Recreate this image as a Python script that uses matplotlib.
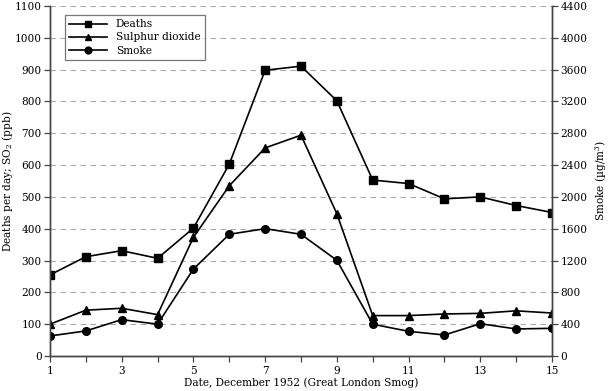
import matplotlib
matplotlib.use("Agg")
import matplotlib.pyplot as plt
from matplotlib.ticker import MultipleLocator

days = [1, 2, 3, 4, 5, 6, 7, 8, 9, 10, 11, 12, 13, 14, 15]
deaths = [255, 312, 331, 307, 402, 603, 898, 911, 802, 553, 542, 494, 500, 473, 451]
so2 = [100, 144, 150, 130, 373, 535, 654, 694, 447, 127, 127, 132, 134, 142, 135]
smoke = [252, 315, 457, 400, 1093, 1530, 1601, 1530, 1203, 400, 310, 264, 406, 340, 348]

x_major = [1, 3, 5, 7, 9, 11, 13, 15]

plt.rcParams['font.family'] = ['DejaVu Serif']
plt.rcParams['mathtext.fontset'] = 'dejavuserif'
fs = 7.6

fig = plt.figure(figsize=(6.09, 3.91), dpi=100)
ax = fig.add_axes([50/609, 1 - 356/391, (552-50)/609, (356-6)/391])
ax2 = ax.twinx()

lc = '#000000'
l1, = ax.plot(days, deaths, color=lc, lw=1.2, marker='s', ms=5.3, label='Deaths')
l2, = ax.plot(days, so2, color=lc, lw=1.2, marker='^', ms=5.3, label='Sulphur dioxide')
l3, = ax2.plot(days, smoke, color=lc, lw=1.2, marker='o', ms=5.5, label='Smoke')

ax.set_xlim(1, 15)
ax.set_ylim(0, 1100)
ax2.set_ylim(0, 4400)
ax.set_xticks(x_major)
ax.xaxis.set_minor_locator(MultipleLocator(1))
ax.yaxis.set_major_locator(MultipleLocator(100))
ax2.yaxis.set_major_locator(MultipleLocator(400))

ax.grid(axis='y', which='major', linestyle=(0, (5, 4)), color='#aaaaaa', lw=0.8)
ax.set_axisbelow(True)

for a in (ax, ax2):
    a.spines['top'].set_visible(False)
    for s in ('left', 'right', 'bottom'):
        a.spines[s].set_color('#444444')
        a.spines[s].set_linewidth(1.0)
    a.tick_params(direction='out', length=4, width=0.9, color='#444444', labelsize=fs, pad=2)
ax.tick_params(axis='x', which='minor', direction='out', length=4, width=0.9, color='#444444')
ax.tick_params(axis='x', pad=3)

ax.set_xlabel('Date, December 1952 (Great London Smog)', fontsize=fs, va='center')
ax.xaxis.set_label_coords(0.5, (356 - 383) / 350)
ax.set_ylabel('Deaths per day; SO$_2$ (ppb)', fontsize=fs, va='center')
ax.yaxis.set_label_coords((8 - 50) / 502, 0.5)
ax2.set_ylabel('Smoke (µg/m$^3$)', fontsize=fs, va='center')
ax2.yaxis.set_label_coords((601 - 50) / 502, 0.5)

leg = ax.legend(handles=[l1, l2, l3], loc='upper left', bbox_to_anchor=(15/502, 1 - 9/350),
                borderaxespad=0, fontsize=fs, frameon=True, fancybox=False, edgecolor='#555555',
                handlelength=3.6, borderpad=0.4, labelspacing=0.3, handletextpad=0.8,
                markerscale=0.9)
leg.get_frame().set_linewidth(0.9)

fig.savefig('out.png', dpi=100)
